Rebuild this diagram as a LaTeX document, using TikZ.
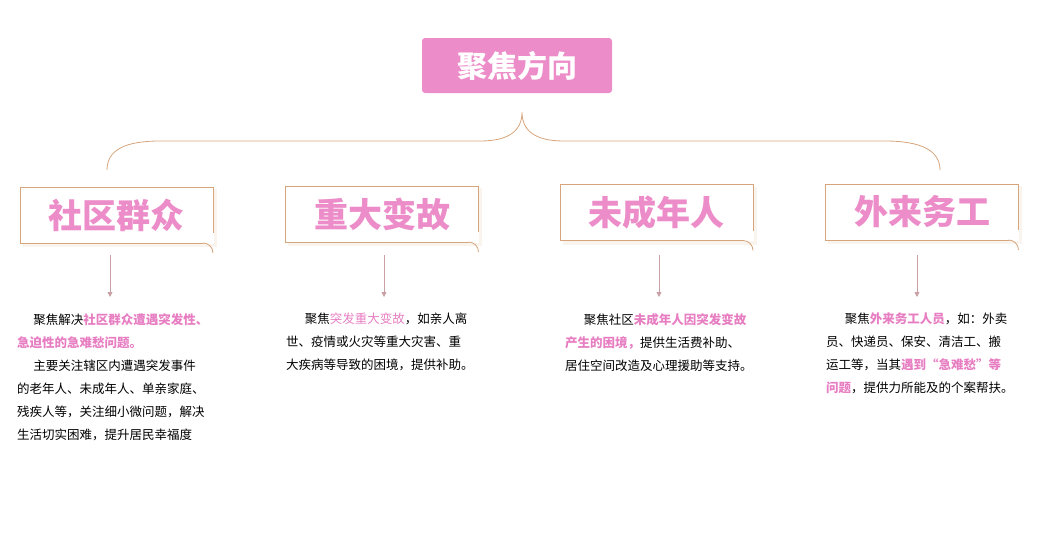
\documentclass[tikz,border=0pt]{standalone}
\usepackage{fontspec}
\setmainfont{Noto Sans CJK SC}
\usetikzlibrary{arrows.meta}
\definecolor{pk}{HTML}{EC8CC8}
\definecolor{pkt}{HTML}{E77EC2}
\definecolor{tan}{HTML}{D6A57C}
\definecolor{arr}{HTML}{C9A0A3}
\begin{document}
\begin{tikzpicture}[x=1pt,y=-1pt,
  catbox/.style={draw=tan,line width=0.8pt,fill=white,minimum width=193pt,minimum height=56pt,inner sep=0pt,
    rounded corners=0pt,font=\fontsize{34}{36}\selectfont\bfseries,text=pk},
  body/.style={anchor=north west,align=left,inner sep=0pt,font=\fontsize{12.5}{23}\selectfont,text=black},
  dn/.style={draw=arr,line width=0.8pt,-{Triangle[length=5pt,width=5pt]}}]
\useasboundingbox (0,0) rectangle (1057,552);
\node[fill=pk,rounded corners=3pt,minimum width=190pt,minimum height=55pt,text=white,font=\fontsize{30}{32}\selectfont\bfseries] (t) at (517,65.5) {聚焦方向};
\coordinate (p) at (522,112);
\coordinate (l) at (107,170);
\coordinate (r) at (940,170);
\draw[tan,line width=0.8pt] (l) .. controls (107,150) and (125,141) .. (160,141) -- (480,141) .. controls (510,141) and (522,130) .. (p)
  .. controls (522,130) and (534,141) .. (564,141) -- (885,141) .. controls (920,141) and (940,150) .. (r);
\foreach \n/\x/\y/\t in {a/116.5/215/社区群众,b/382/214/重大变故,c/656.5/212.5/未成年人,d/922/212/外来务工}{
  \fill[tan!25,opacity=0.5] (\x-94,\y-26) rectangle (\x+100,\y+32);
  \node[catbox] (\n) at (\x,\y) {\t};
  \draw[white,line width=1.2pt] (\x+86.5,\y+28) -- (\x+96.5,\y+28) -- (\x+96.5,\y+18);
  \draw[tan,line width=0.8pt] (\x+86.5,\y+28) arc[start angle=90,end angle=0,radius=10pt];
}
\foreach \n/\x in {a/110,b/384,c/659,d/917}{
  \coordinate (\n e) at (\x,297);
  \draw[dn] (\x,255) -- (\n e);
}
\node[body] (ta) at (17,313) {\hspace{1.3em}聚焦解决\textcolor{pkt}{\bfseries 社区群众遭遇突发性、}\\
\textcolor{pkt}{\bfseries 急迫性的急难愁问题。}\\
\hspace{1.3em}主要关注辖区内遭遇突发事件\\
的老年人、未成年人、单亲家庭、\\
残疾人等，关注细小微问题，解决\\
生活切实困难，提升居民幸福度};
\node[body] (tb) at (286,313) {\hspace{1.5em}聚焦\textcolor{pkt}{突发重大变故}，如亲人离\\
世、疫情或火灾等重大灾害、重\\
大疾病等导致的困境，提供补助。};
\node[body] (tc) at (565,313) {\hspace{1.5em}聚焦社区\textcolor{pkt}{\bfseries 未成年人因突发变故}\\
\textcolor{pkt}{\bfseries 产生的困境，}提供生活费补助、\\
居住空间改造及心理援助等支持。};
\node[body] (td) at (826,313) {\hspace{1.5em}聚焦\textcolor{pkt}{\bfseries 外来务工人员}，如：外卖\\
员、快递员、保安、清洁工、搬\\
运工等，当其\textcolor{pkt}{\bfseries 遇到“急难愁”等}\\
\textcolor{pkt}{\bfseries 问题}，提供力所能及的个案帮扶。};
\end{tikzpicture}
\end{document}
